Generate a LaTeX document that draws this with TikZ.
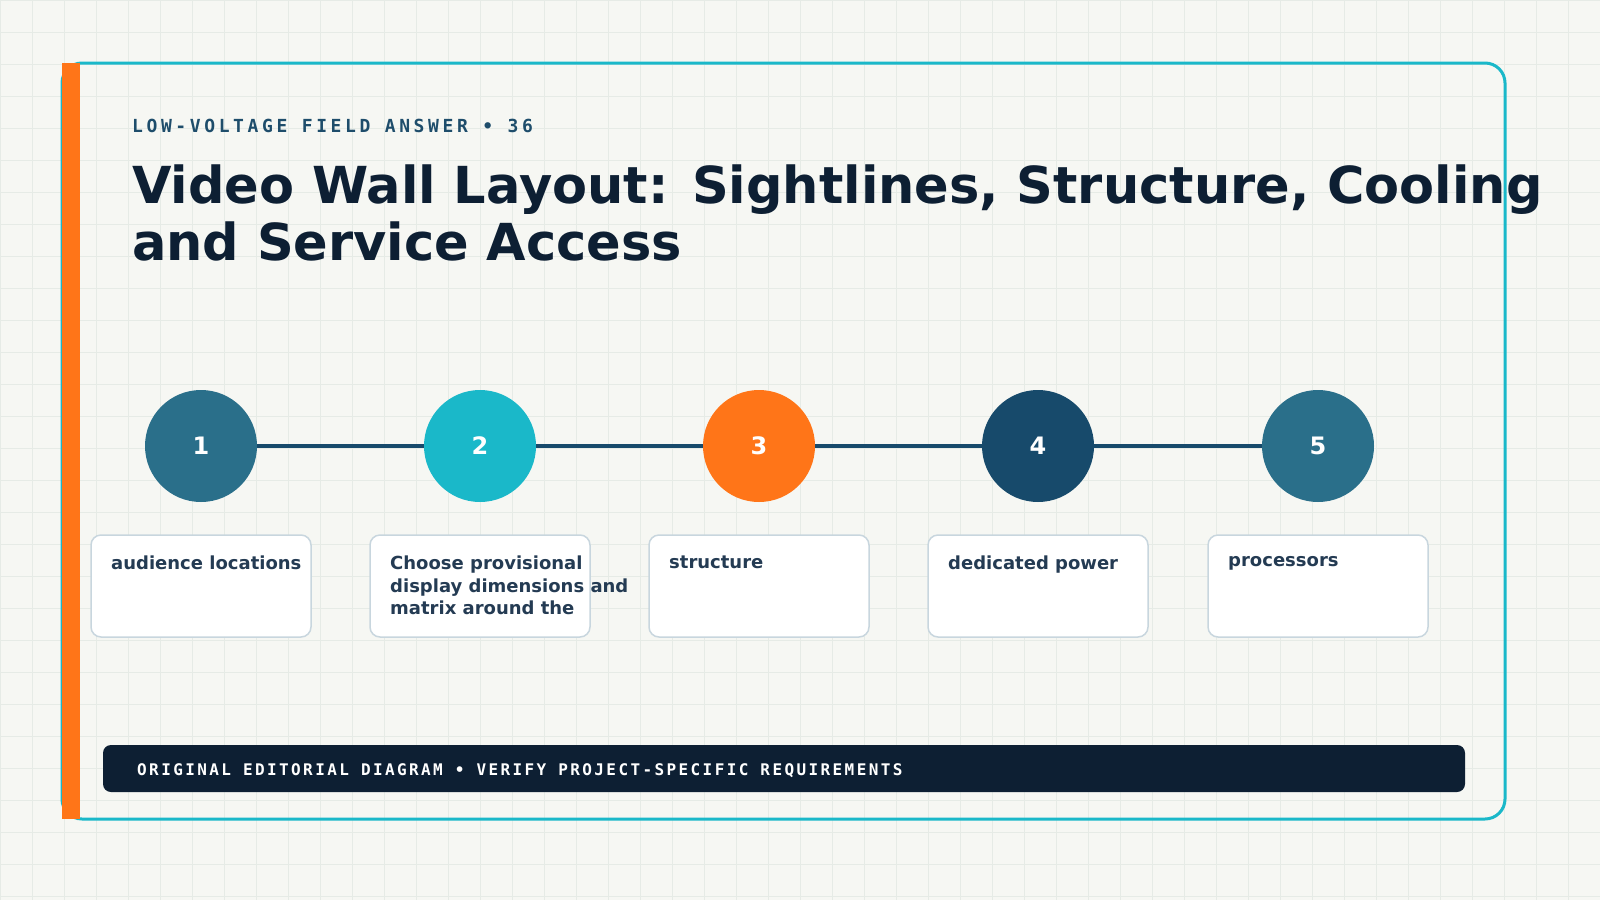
\documentclass[tikz,border=0pt]{standalone}
\usepackage{fontspec}
\setmainfont{DejaVu Sans}
\newfontfamily\monoLS[LetterSpace=20]{DejaVu Sans Mono}
\newfontfamily\monoFS[LetterSpace=15]{DejaVu Sans Mono}
\definecolor{bg}{HTML}{F6F7F3}
\definecolor{gridc}{HTML}{E6EBE6}
\definecolor{cyanc}{HTML}{1AB8C9}
\definecolor{orangec}{HTML}{FF7518}
\definecolor{navy}{HTML}{0D1F33}
\definecolor{teal}{HTML}{2A6F8A}
\definecolor{dteal}{HTML}{174A6B}
\definecolor{txt}{HTML}{243B53}
\definecolor{boxl}{HTML}{C8D6DE}
\definecolor{eyeb}{HTML}{1E4D6B}
\begin{document}
\begin{tikzpicture}[x=1pt,y=-1pt,
  stepc/.style={circle,minimum size=112pt,inner sep=0pt,text=white,font=\bfseries\fontsize{24}{28}\selectfont},
  card/.style={draw=boxl,line width=1.5pt,fill=white,rounded corners=10pt},
  cardtxt/.style={anchor=north west,align=left,inner sep=0pt,text=txt,font=\bfseries\fontsize{18}{22.5}\selectfont}]
\useasboundingbox (0,0) rectangle (1600,900);
\fill[bg] (0,0) rectangle (1600,900);
\foreach \i in {0,32,...,1600} \draw[gridc,line width=0.8pt] (\i,0) -- (\i,900);
\foreach \i in {0,32,...,900} \draw[gridc,line width=0.8pt] (0,\i) -- (1600,\i);
\draw[cyanc,line width=3pt,rounded corners=20pt] (62,63) rectangle (1505,819);
\fill[orangec] (62,63) rectangle (80,819);
\node[anchor=base west,inner sep=0pt,text=eyeb,font=\monoLS\bfseries\fontsize{18}{20}\selectfont] (eyebrow) at (132,132) {LOW-VOLTAGE FIELD ANSWER • 36};
\node[anchor=base west,inner sep=0pt,text=navy,font=\bfseries\fontsize{51}{57}\selectfont] (t1) at (132,203) {Video Wall Layout: Sightlines, Structure, Cooling};
\node[anchor=base west,inner sep=0pt,text=navy,font=\bfseries\fontsize{51}{57}\selectfont] (t2) at (132,260) {and Service Access};
\node[stepc,fill=teal] (s1) at (201,446) {1};
\node[stepc,fill=cyanc] (s2) at (480,446) {2};
\node[stepc,fill=orangec] (s3) at (759,446) {3};
\node[stepc,fill=dteal] (s4) at (1038,446) {4};
\node[stepc,fill=teal] (s5) at (1318,446) {5};
\draw[dteal,line width=4pt] (s1.east) -- (s2.west) (s2.east) -- (s3.west) (s3.east) -- (s4.west) (s4.east) -- (s5.west);
\foreach \n/\x in {1/201,2/480,3/759,4/1038,5/1318}{
  \draw[card] (\x-110,535) rectangle (\x+110,637);
  \coordinate (c\n) at (\x-90,556);
}
\node[cardtxt] (l1) at (c1) {audience locations};
\node[cardtxt] (l2) at (c2) {Choose provisional\\display dimensions and\\matrix around the};
\node[cardtxt] (l3) at (c3) {structure};
\node[cardtxt] (l4) at (c4) {dedicated power};
\node[cardtxt] (l5) at (c5) {processors};
\fill[navy,rounded corners=8pt] (103,745) rectangle (1465,792);
\node[anchor=base west,inner sep=0pt,text=white,font=\monoFS\bfseries\fontsize{16}{18}\selectfont] (foot) at (137,775) {ORIGINAL EDITORIAL DIAGRAM • VERIFY PROJECT-SPECIFIC REQUIREMENTS};
\end{tikzpicture}
\end{document}
